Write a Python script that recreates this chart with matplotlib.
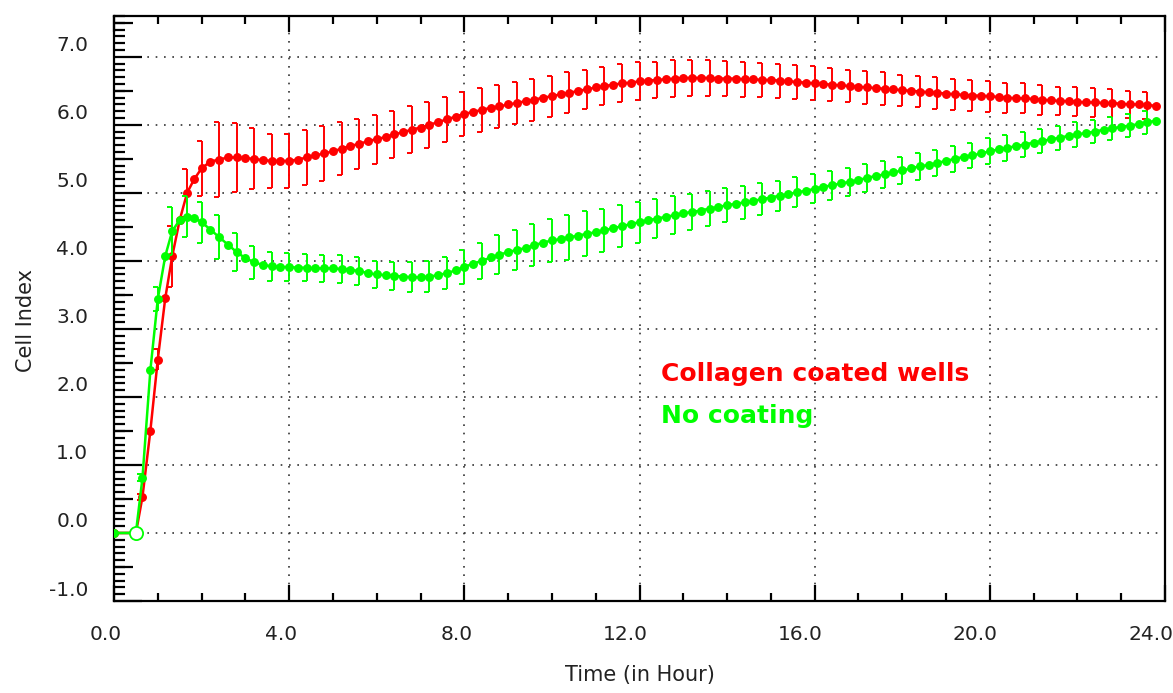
import numpy as np
import matplotlib
matplotlib.use("Agg")
import matplotlib.pyplot as plt
from matplotlib.path import Path
from matplotlib.ticker import MultipleLocator
from matplotlib.transforms import ScaledTranslation

# sweeps in the first two hours (h)
t_early = [0.0, 0.5, 0.65, 0.83, 1.0, 1.17, 1.33, 1.5, 1.67, 1.83, 2.0]
red_early = [0.0, 0.0, 0.53, 1.50, 2.55, 3.45, 4.07, 4.60, 5.00, 5.20, 5.36]
green_early = [0.0, 0.0, 0.81, 2.39, 3.44, 4.07, 4.44, 4.60, 4.65, 4.63, 4.57]

# later sweeps: 2.2 h .. 23.8 h, every 0.2 h
red_late = [
    5.46, 5.49, 5.52, 5.52, 5.51, 5.50, 5.48, 5.47, 5.47, 5.47,
    5.49, 5.52, 5.55, 5.58, 5.61, 5.65, 5.69, 5.72, 5.76, 5.79,
    5.82, 5.86, 5.89, 5.93, 5.96, 6.00, 6.04, 6.08, 6.12, 6.16,
    6.19, 6.22, 6.25, 6.27, 6.30, 6.32, 6.35, 6.37, 6.40, 6.42,
    6.45, 6.47, 6.50, 6.52, 6.55, 6.57, 6.59, 6.61, 6.62, 6.64,
    6.65, 6.66, 6.67, 6.68, 6.69, 6.69, 6.69, 6.69, 6.68, 6.68,
    6.68, 6.67, 6.67, 6.66, 6.66, 6.65, 6.64, 6.63, 6.62, 6.61,
    6.60, 6.59, 6.58, 6.57, 6.56, 6.55, 6.54, 6.53, 6.52, 6.51,
    6.50, 6.49, 6.48, 6.47, 6.46, 6.45, 6.44, 6.43, 6.43, 6.42,
    6.41, 6.40, 6.39, 6.39, 6.38, 6.37, 6.36, 6.35, 6.35, 6.34,
    6.33, 6.33, 6.32, 6.32, 6.31, 6.30, 6.30, 6.29, 6.28,
]
green_late = [
    4.46, 4.35, 4.24, 4.13, 4.04, 3.98, 3.94, 3.92, 3.91, 3.91,
    3.90, 3.90, 3.89, 3.89, 3.89, 3.88, 3.87, 3.85, 3.82, 3.80,
    3.79, 3.78, 3.77, 3.76, 3.76, 3.77, 3.79, 3.82, 3.86, 3.91,
    3.96, 4.00, 4.05, 4.09, 4.13, 4.16, 4.19, 4.23, 4.27, 4.30,
    4.32, 4.35, 4.37, 4.40, 4.42, 4.45, 4.48, 4.51, 4.54, 4.57,
    4.60, 4.62, 4.65, 4.67, 4.70, 4.72, 4.74, 4.77, 4.79, 4.82,
    4.84, 4.86, 4.88, 4.91, 4.93, 4.96, 4.98, 5.01, 5.03, 5.06,
    5.09, 5.11, 5.14, 5.16, 5.19, 5.22, 5.25, 5.27, 5.30, 5.33,
    5.36, 5.39, 5.41, 5.44, 5.47, 5.50, 5.53, 5.55, 5.58, 5.61,
    5.64, 5.66, 5.69, 5.71, 5.74, 5.76, 5.79, 5.81, 5.84, 5.86,
    5.88, 5.90, 5.93, 5.95, 5.97, 5.99, 6.01, 6.04, 6.06,
]

# standard deviation, drawn at every second sweep
red_sd = [
    0.0, 0.05, 0.15, 0.45, 0.35, 0.40,
    0.55, 0.50, 0.45, 0.40,
    0.40, 0.40, 0.40, 0.39, 0.37, 0.36, 0.35, 0.35, 0.34, 0.33,
    0.33, 0.32, 0.32, 0.31, 0.31, 0.30, 0.30, 0.29, 0.28, 0.28,
    0.28, 0.27, 0.27, 0.27, 0.26, 0.26, 0.26, 0.25, 0.25, 0.25,
    0.25, 0.24, 0.24, 0.24, 0.24, 0.23, 0.23, 0.23, 0.23, 0.23,
    0.23, 0.22, 0.22, 0.22, 0.21, 0.21, 0.21, 0.20, 0.20, 0.20,
]
green_sd = [
    0.0, 0.05, 0.18, 0.35, 0.30, 0.30,
    0.32, 0.28, 0.24, 0.21,
    0.21, 0.20, 0.20, 0.20, 0.20, 0.20, 0.21, 0.22, 0.23, 0.24,
    0.25, 0.27, 0.29, 0.30, 0.31, 0.32, 0.33, 0.33, 0.32, 0.31,
    0.30, 0.29, 0.28, 0.27, 0.26, 0.25, 0.24, 0.23, 0.22, 0.22,
    0.21, 0.21, 0.21, 0.20, 0.20, 0.20, 0.20, 0.19, 0.19, 0.19,
    0.19, 0.19, 0.18, 0.18, 0.18, 0.18, 0.17, 0.17, 0.17, 0.17,
]

label_red = "Collagen coated wells"
label_green = "No coating"

RED = "#ff0000"
GREEN = "#00ff00"

t_late = np.round(2.2 + 0.2 * np.arange(len(red_late)), 2)
time = np.concatenate([t_early, t_late])
red = np.array(red_early + red_late)
green = np.array(green_early + green_late)

# half cap pointing left, like "]"
cap = Path([[-1, 0], [0, 0]], [Path.MOVETO, Path.LINETO])

fig = plt.figure(figsize=(11.73, 6.93), dpi=100)
ax = fig.add_axes([114 / 1173, 1 - 601 / 693, 1051 / 1173, 585 / 693])


def series(y, sd, color):
    ax.plot(time, y, color=color, lw=1.8, marker="o", ms=5.4, mec=color,
            mfc=color, zorder=3)
    te, ye = time[::2], y[::2]
    sd = np.array(sd)
    ax.errorbar(te, ye, yerr=sd, fmt="none", ecolor=color, elinewidth=1.4,
                capsize=0, zorder=3)
    ax.plot(te, ye + sd, ls="none", marker=cap, ms=7, mew=1.4, mec=color, zorder=3)
    ax.plot(te, ye - sd, ls="none", marker=cap, ms=7, mew=1.4, mec=color, zorder=3)


series(red, red_sd, RED)
series(green, green_sd, GREEN)
# normalisation point
ax.plot([time[1]], [green[1]], ls="none", marker="o", ms=9.5, mfc="white",
        mec=GREEN, mew=1.3, zorder=4)

ax.set_xlim(0, 24)
ax.set_ylim(-1.0, 7.6)

ax.xaxis.set_major_locator(MultipleLocator(4))
ax.xaxis.set_minor_locator(MultipleLocator(1))
ax.yaxis.set_major_locator(MultipleLocator(1))
ax.yaxis.set_minor_locator(MultipleLocator(0.1))
ax.xaxis.set_major_formatter(lambda v, p: f"{v:.1f}")
ax.yaxis.set_major_formatter(lambda v, p: f"{v:.1f}")

ax.tick_params(axis="x", which="major", direction="in", length=11.5, width=1.6,
               top=True, labelsize=14.5, pad=17, labelcolor="#222222")
ax.tick_params(axis="x", which="minor", direction="in", length=5.8, width=1.6,
               top=True)
ax.tick_params(axis="y", which="major", direction="in", length=20, width=1.6,
               right=False, labelsize=14.5, pad=18.5, labelcolor="#222222")
ax.tick_params(axis="y", which="minor", direction="in", length=8, width=1.6,
               right=False)

sec = ax.secondary_yaxis("left")
sec.set_yticks(np.arange(-0.5, 7.6, 1.0))
sec.tick_params(direction="in", length=13.5, width=1.6, labelleft=False)
sec.spines["left"].set_visible(False)

for lab in ax.get_yticklabels():
    lab.set_transform(lab.get_transform() + ScaledTranslation(0, 13 / 100, fig.dpi_scale_trans))
for lab in ax.get_xticklabels():
    lab.set_horizontalalignment("right")
    lab.set_transform(lab.get_transform() + ScaledTranslation(8 / 100, 0, fig.dpi_scale_trans))

ax.grid(True, which="major", color="#333333", lw=1.2, ls=(0, (1, 4)))

for s in ax.spines.values():
    s.set_linewidth(1.6)

ax.set_xlabel("Time (in Hour)", fontsize=15, color="#222222")
ax.xaxis.set_label_coords(0.5, (601 - 665) / 585)
ax.set_ylabel("Cell Index", fontsize=15, color="#222222")
ax.yaxis.set_label_coords((36 - 114) / 1051, (601 - 320) / 585)

ax.text(12.5, 2.33, label_red, color=RED, fontsize=18, fontweight="bold",
        family="DejaVu Sans", va="center", ha="left")
ax.text(12.5, 1.72, label_green, color=GREEN, fontsize=18, fontweight="bold",
        family="DejaVu Sans", va="center", ha="left")

fig.savefig("out.png", dpi=100)
